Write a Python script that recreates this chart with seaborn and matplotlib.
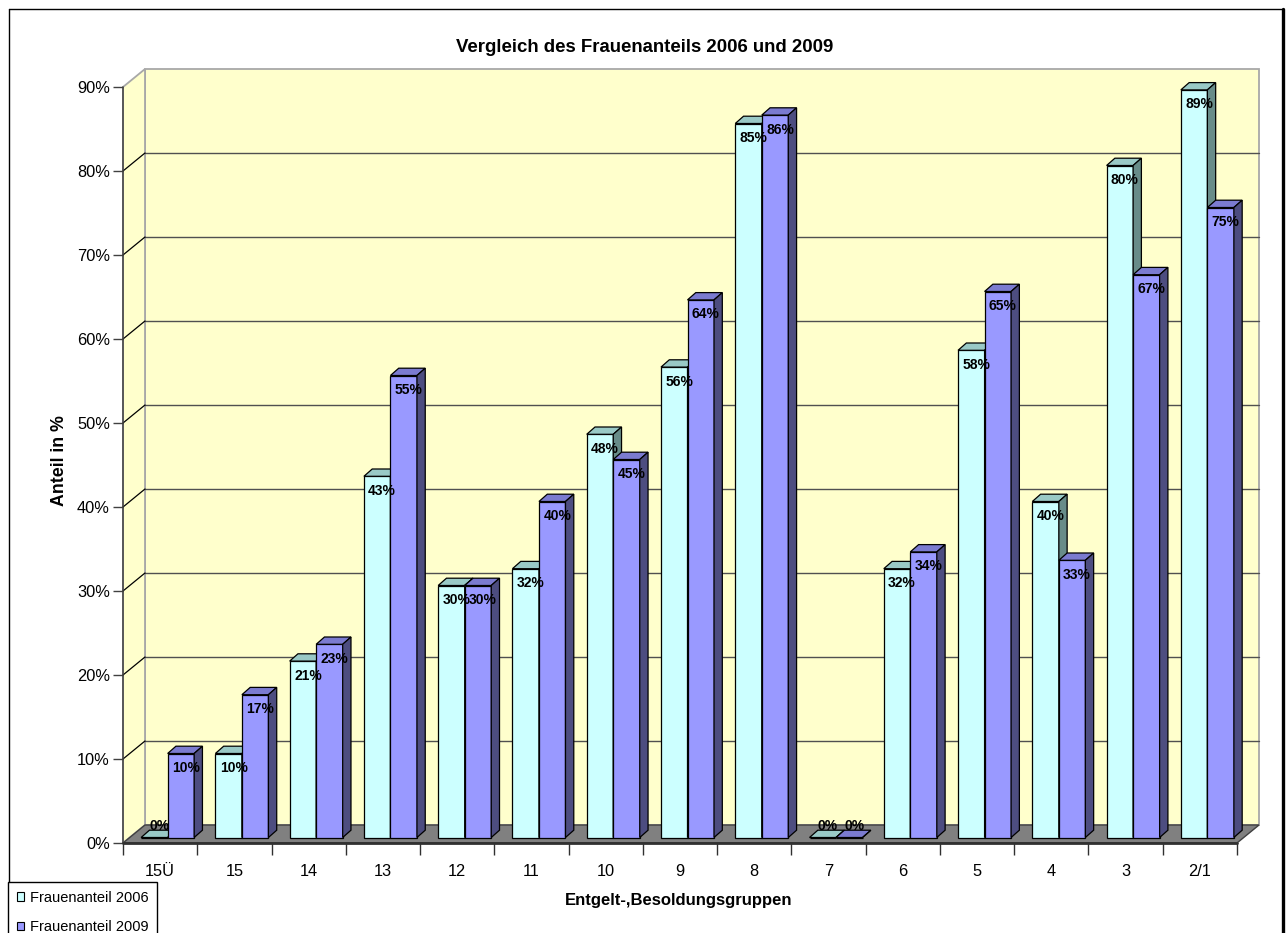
import numpy as np
import pandas as pd
import matplotlib
matplotlib.use("Agg")
import matplotlib.pyplot as plt
import matplotlib.colors as mcolors
from matplotlib.patches import Polygon, Patch
from matplotlib.transforms import Affine2D
from matplotlib.lines import Line2D
import seaborn as sns

# ---- data -------------------------------------------------------------
groups = ["15Ü", "15", "14", "13", "12", "11", "10", "9", "8", "7",
          "6", "5", "4", "3", "2/1"]
share_2006 = [0, 10, 21, 43, 30, 32, 48, 56, 85, 0, 32, 58, 40, 80, 89]
share_2009 = [10, 17, 23, 55, 30, 40, 45, 64, 86, 0, 34, 65, 33, 67, 75]
series = ["Frauenanteil 2006", "Frauenanteil 2009"]
y_ticks = [0, 10, 20, 30, 40, 50, 60, 70, 80, 90]

title = "Vergleich des Frauenanteils 2006 und 2009"
x_title = "Entgelt-,Besoldungsgruppen"
y_title = "Anteil in %"

df = pd.DataFrame({
    "Gruppe": groups * 2,
    "Anteil": share_2006 + share_2009,
    "Serie": [series[0]] * len(groups) + [series[1]] * len(groups),
})

# ---- style ------------------------------------------------------------
sns.set_theme(style="white")
plt.rcParams["font.family"] = ["Liberation Sans", "DejaVu Sans"]
plt.rcParams["text.color"] = "black"

front_col = {series[0]: "#CCFFFF", series[1]: "#9999FF"}
top_col = {series[0]: "#99C9C6", series[1]: "#7B7BD0"}
side_col = {series[0]: "#688C89", series[1]: "#4D4D80"}
wall_col = "#FFFFCC"
floor_col = "#808080"

W, H = 1288, 933
fig = plt.figure(figsize=(W / 100, H / 100), dpi=100)
ax_left, ax_right, ax_bottom, ax_top = 123, 1237, 843, 87
ax = fig.add_axes([ax_left / W, (H - ax_bottom) / H,
                   (ax_right - ax_left) / W, (ax_bottom - ax_top) / H])

n = len(groups)
x_lo, x_hi = -0.5, n - 0.5
y_lo, y_hi = y_ticks[0], y_ticks[-1]
px_x = (ax_right - ax_left) / n
px_y = (ax_bottom - ax_top) / (y_hi - y_lo)

# depth of the floor / walls and of the bars, in data units
DX, DY = 22 / px_x, 18 / px_y
OX, OY = 7.5 / px_x, 5.5 / px_y
BX, BY = 8.3 / px_x, 7.3 / px_y

# ---- walls and floor --------------------------------------------------
back = Polygon([(x_lo + DX, y_lo + DY), (x_hi + DX, y_lo + DY),
                (x_hi + DX, y_hi + DY), (x_lo + DX, y_hi + DY)],
               closed=True, facecolor=wall_col, edgecolor="#A8A8A8",
               lw=1.3, zorder=0.5, clip_on=False)
side_wall = Polygon([(x_lo, y_lo), (x_lo, y_hi), (x_lo + DX, y_hi + DY),
                     (x_lo + DX, y_lo + DY)],
                    closed=True, facecolor=wall_col, edgecolor="#A8A8A8",
                    lw=1.3, zorder=0.5, clip_on=False)
floor = Polygon([(x_lo, y_lo), (x_hi, y_lo), (x_hi + DX, y_lo + DY),
                 (x_lo + DX, y_lo + DY)],
                closed=True, facecolor=floor_col, edgecolor="#404040",
                lw=1.0, zorder=0.8, clip_on=False)
for p in (back, side_wall, floor):
    ax.add_patch(p)

for v in y_ticks[1:-1]:
    ax.plot([x_lo + DX, x_hi + DX], [v + DY, v + DY], color="#505050",
            lw=1.0, zorder=0.9, clip_on=False)
    ax.plot([x_lo, x_lo + DX], [v, v + DY], color="black", lw=0.9,
            zorder=0.9, clip_on=False)

# axis lines
ax.plot([x_lo, x_lo], [y_lo, y_hi], color="#404040", lw=1.1, zorder=1,
        clip_on=False)
ax.plot([x_lo, x_hi], [y_lo, y_lo], color="#303030", lw=2.0, zorder=1,
        clip_on=False)

# ---- bars -------------------------------------------------------------
sns.barplot(data=df, x="Gruppe", y="Anteil", hue="Serie", order=groups,
            hue_order=series, palette=front_col, width=0.714, gap=0,
            dodge=True, saturation=1, edgecolor="black", linewidth=0.9,
            errorbar=None, legend=False, ax=ax)

shift = Affine2D().translate(OX, OY) + ax.transData
hex_to_series = {mcolors.to_hex(c): s for s, c in front_col.items()}

bars = [p for p in ax.patches if hasattr(p, "get_height")
        and mcolors.to_hex(p.get_facecolor()) in hex_to_series]
for p in bars:
    s = hex_to_series[mcolors.to_hex(p.get_facecolor())]
    x, w, h = p.get_x(), p.get_width(), p.get_height()
    z = 3 + 0.01 * (x + 1)
    p.set_transform(shift)
    p.set_clip_on(False)
    p.set_zorder(z)
    top = Polygon([(x, h), (x + w, h), (x + w + BX, h + BY), (x + BX, h + BY)],
                  closed=True, facecolor=top_col[s], edgecolor="black",
                  lw=0.9, transform=shift, zorder=z + 0.001, clip_on=False)
    side = Polygon([(x + w, 0), (x + w + BX, BY), (x + w + BX, h + BY),
                    (x + w, h)],
                   closed=True, facecolor=side_col[s], edgecolor="black",
                   lw=0.9, transform=shift, zorder=z + 0.002, clip_on=False)
    ax.add_patch(top)
    ax.add_patch(side)
    dy_pt = -10.4 if h > 0 else 8.5
    ax.annotate(f"{h:.0f}%", xy=(x + w / 2, h), xycoords=shift,
                xytext=(3.6, dy_pt), textcoords="offset points",
                ha="center", va="center", fontsize=10, fontweight="bold",
                color="black", zorder=20, annotation_clip=False)

# ---- axes -------------------------------------------------------------
ax.set_xlim(x_lo, x_hi)
ax.set_ylim(y_lo, y_hi)
for sp in ax.spines.values():
    sp.set_visible(False)
ax.set_facecolor("none")

ax.set_yticks(y_ticks, [f"{v}%" for v in y_ticks])
ax.tick_params(axis="y", left=True, length=7.2, width=1.0, color="#404040",
               pad=2.2, labelsize=11.8, labelcolor="black")

ax.set_xticks(range(n), groups)
ax.set_xticks(np.arange(x_lo, x_hi + 0.5, 1.0), minor=True)
ax.tick_params(axis="x", which="major", bottom=True, length=0, pad=15,
               labelsize=11.8, labelcolor="black")
ax.tick_params(axis="x", which="minor", bottom=True, length=8.6, width=1.0,
               color="#303030")
ax.set_xlabel("")
ax.set_ylabel("")

# ---- titles -----------------------------------------------------------
fig.text(645 / W, 1 - 48 / H, title, ha="center", va="center",
         fontsize=13.4, fontweight="bold", color="black")
fig.text(679 / W, 1 - 900 / H, x_title, ha="center", va="center",
         fontsize=12, fontweight="bold", color="black")
fig.text(60 / W, 1 - 461 / H, y_title, ha="center", va="center",
         rotation=90, fontsize=12.8, fontweight="bold", color="black")

# ---- legend -----------------------------------------------------------
handles = [Patch(facecolor=front_col[s], edgecolor="black", lw=0.8, label=s)
           for s in series]
leg = fig.legend(handles=handles, loc="upper left",
                 bbox_to_anchor=(8 / W, 1 - 882 / H),
                 bbox_transform=fig.transFigure, borderaxespad=0,
                 frameon=True, fancybox=False, edgecolor="black",
                 framealpha=1, fontsize=10.5, handlelength=0.5,
                 handleheight=0.5, handletextpad=0.4, labelspacing=1.05,
                 borderpad=0.6)
leg.get_frame().set_linewidth(1.0)
for t in leg.get_texts():
    t.set_color("black")

# ---- outer frame ------------------------------------------------------
fig.add_artist(Line2D([8.5 / W, 8.5 / W], [0, 1 - 8.5 / H],
                      transform=fig.transFigure, color="black", lw=1.0))
fig.add_artist(Line2D([8.5 / W, 1283 / W], [1 - 8.5 / H, 1 - 8.5 / H],
                      transform=fig.transFigure, color="black", lw=1.0))
fig.add_artist(Line2D([1283 / W, 1283 / W], [0, 1 - 8.5 / H],
                      transform=fig.transFigure, color="black", lw=2.4))

fig.savefig("out.png", dpi=100, facecolor="white")
